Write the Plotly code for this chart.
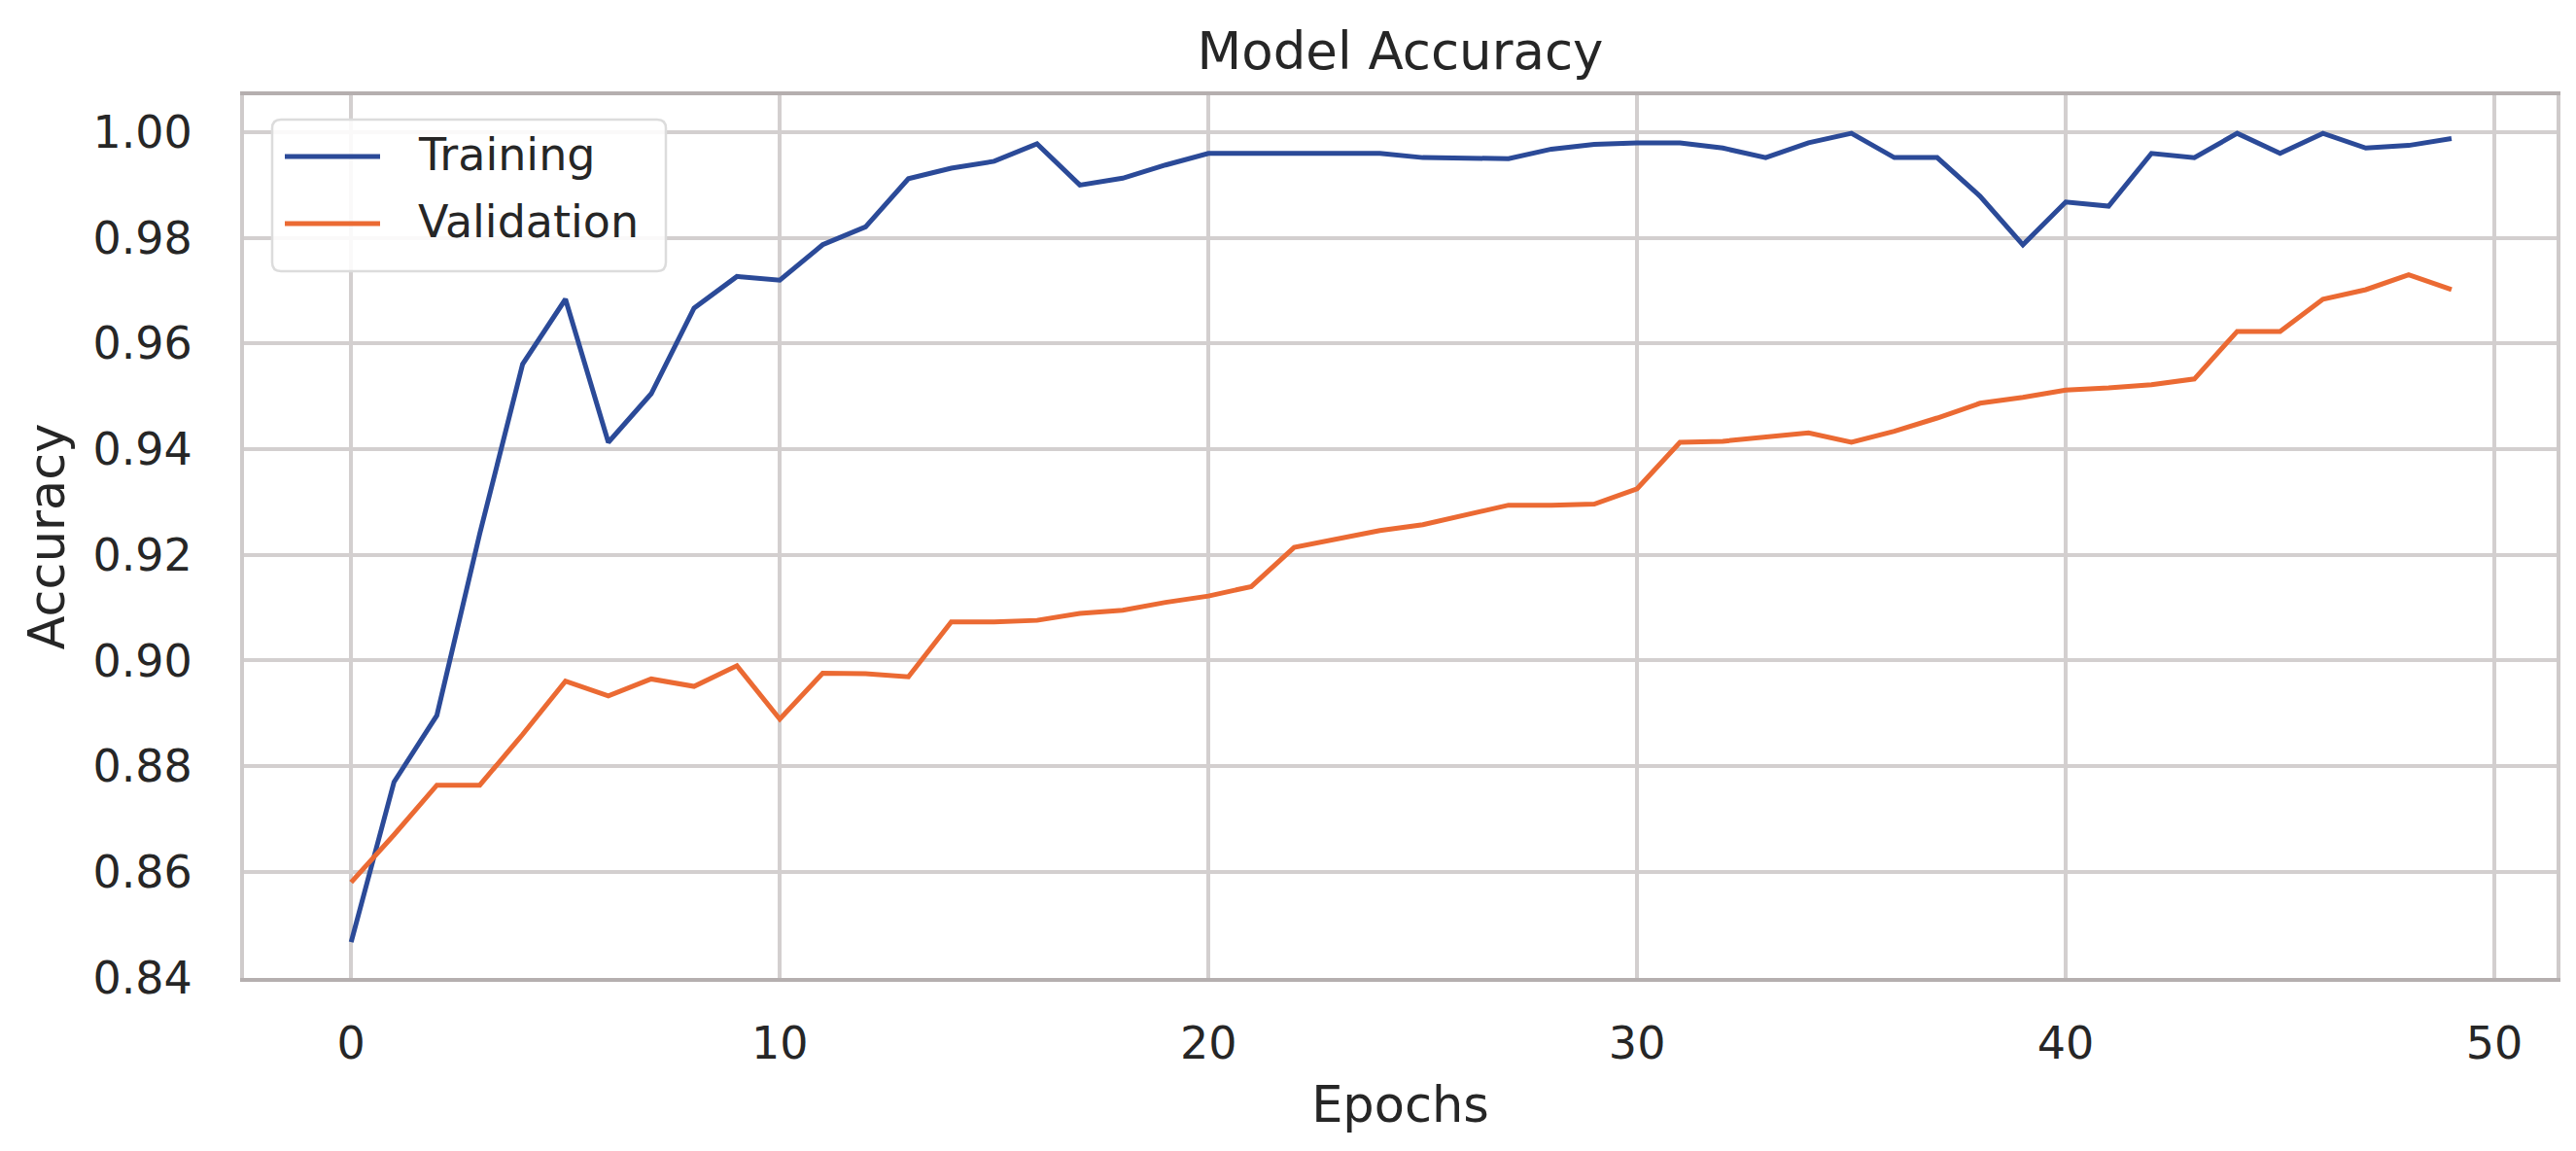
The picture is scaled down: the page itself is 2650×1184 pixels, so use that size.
import plotly.graph_objects as go

# ---- data ----
epochs = list(range(50))
training = [0.8467, 0.877, 0.8896, 0.924, 0.9561, 0.9684, 0.9413, 0.9505, 0.9667, 0.9727,
            0.972, 0.9787, 0.9821, 0.9912, 0.9932, 0.9945, 0.9978, 0.9900, 0.9913, 0.9938,
            0.996, 0.996, 0.996, 0.996, 0.996, 0.9952, 0.9950, 0.9950, 0.9968, 0.9977,
            0.998, 0.998, 0.997, 0.9952, 0.998, 0.9998, 0.9952, 0.9952, 0.9879, 0.9787,
            0.9868, 0.986, 0.996, 0.9952, 0.9998, 0.996, 0.9998, 0.997, 0.9975, 0.9988]
validation = [0.858, 0.867, 0.8764, 0.8764, 0.886, 0.8961, 0.8933, 0.8965, 0.8951, 0.899,
              0.8889, 0.8976, 0.8975, 0.8969, 0.9073, 0.9073, 0.9076, 0.9089, 0.9095, 0.911,
              0.9122, 0.914, 0.9214, 0.923, 0.9246, 0.9257, 0.9276, 0.9294, 0.9294, 0.9296,
              0.9325, 0.9413, 0.9415, 0.9424, 0.9431, 0.9413, 0.9434, 0.9459, 0.9487, 0.9498,
              0.9512, 0.9516, 0.9522, 0.9533, 0.9623, 0.9623, 0.9684, 0.9702, 0.973, 0.9702]
series_names = ["Training", "Validation"]
x_ticks = [0, 10, 20, 30, 40, 50]
y_ticks = [0.84, 0.86, 0.88, 0.90, 0.92, 0.94, 0.96, 0.98, 1.00]

# ---- style ----
W, H = 2650, 1184
ML, MR, MT, MB = 243, 28, 90, 186
PW, PH = W - ML - MR, H - MT - MB
BLUE = "#2b4a98"
ORANGE = "#eb6a33"
TEXT = "#262626"
GRID = "#d3cfcf"
FONT = "DejaVu Sans"

def px_x(px):
    return (px - ML) / PW

def px_y(py):
    return (H - MB - py) / PH

fig = go.Figure()
fig.add_trace(go.Scatter(x=epochs, y=training, mode="lines", name=series_names[0],
                         line=dict(color=BLUE, width=5), showlegend=False))
fig.add_trace(go.Scatter(x=epochs, y=validation, mode="lines", name=series_names[1],
                         line=dict(color=ORANGE, width=5), showlegend=False))

# ---- legend (drawn box, matplotlib-like) ----
lx0, lx1, ly0, ly1 = 272, 677, 115, 271
r = 9
def P(x, y):
    return f"{px_x(x):.6f},{px_y(y):.6f}"
path = (f"M {P(lx0 + r, ly0)} L {P(lx1 - r, ly0)} Q {P(lx1, ly0)} {P(lx1, ly0 + r)} "
        f"L {P(lx1, ly1 - r)} Q {P(lx1, ly1)} {P(lx1 - r, ly1)} "
        f"L {P(lx0 + r, ly1)} Q {P(lx0, ly1)} {P(lx0, ly1 - r)} "
        f"L {P(lx0, ly0 + r)} Q {P(lx0, ly0)} {P(lx0 + r, ly0)} Z")
shapes = [dict(type="path", xref="paper", yref="paper", path=path,
               fillcolor="rgba(255,255,255,0.88)", line=dict(color="#dcdcdc", width=2.5),
               layer="above")]
annotations = []
for name, color, yy in [(series_names[0], BLUE, 153), (series_names[1], ORANGE, 222)]:
    shapes.append(dict(type="line", xref="paper", yref="paper",
                       x0=px_x(285), x1=px_x(383), y0=px_y(yy), y1=px_y(yy),
                       line=dict(color=color, width=5), layer="above"))
    annotations.append(dict(text=name, xref="paper", yref="paper", x=px_x(420), y=px_y(yy - 2),
                            xanchor="left", yanchor="middle", showarrow=False,
                            font=dict(family=FONT, size=46, color=TEXT)))

fig.update_layout(
    width=W, height=H,
    margin=dict(l=ML, r=MR, t=MT, b=MB),
    paper_bgcolor="white", plot_bgcolor="white",
    font=dict(family=FONT, color=TEXT),
    title=dict(text="Model Accuracy", x=0.5, xref="paper",
               y=1 - 44 / H, yref="container", xanchor="center", yanchor="middle",
               font=dict(family=FONT, size=53, color=TEXT)),
    shapes=shapes,
    annotations=annotations,
)
fig.update_xaxes(
    range=[-2.5, 51.45], tickvals=x_ticks, ticktext=[str(t) for t in x_ticks],
    showgrid=True, gridcolor=GRID, gridwidth=3.5, zeroline=False,
    showline=True, linecolor="#b5afaf", linewidth=4, mirror=True,
    ticks="outside", ticklen=24, tickcolor="rgba(0,0,0,0)",
    tickfont=dict(family=FONT, size=46, color=TEXT),
    title=dict(text="Epochs", font=dict(family=FONT, size=51, color=TEXT), standoff=20),
    automargin=True,
)
fig.update_yaxes(
    range=[0.8399, 1.007], tickvals=y_ticks, ticktext=[f"{t:.2f}" for t in y_ticks],
    showgrid=True, gridcolor=GRID, gridwidth=3.5, zeroline=False,
    showline=True, linecolor="#cfcbcb", linewidth=4, mirror=True,
    ticks="outside", ticklen=40, tickcolor="rgba(0,0,0,0)",
    tickfont=dict(family=FONT, size=46, color=TEXT),
    title=dict(text="Accuracy", font=dict(family=FONT, size=51, color=TEXT), standoff=14),
    automargin=True,
)

fig.write_html("out.html")
